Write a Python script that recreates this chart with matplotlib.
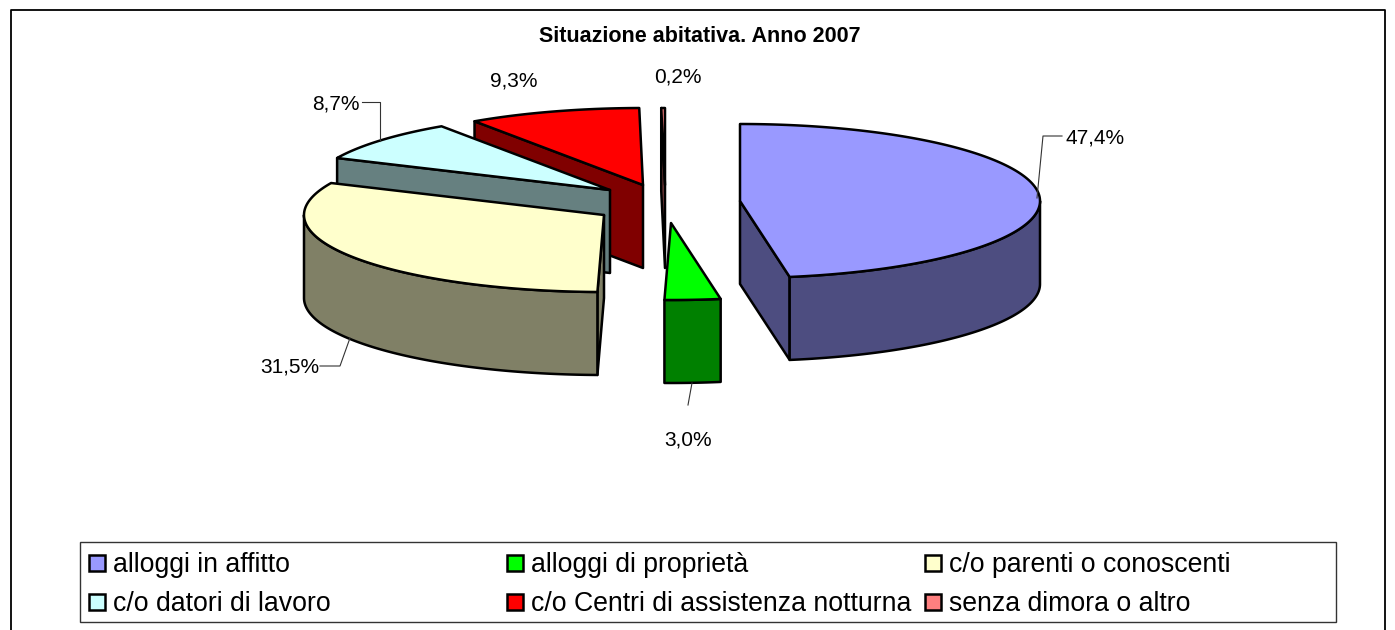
import numpy as np
import matplotlib
matplotlib.use("Agg")
import matplotlib.pyplot as plt
from matplotlib.patches import Polygon, Rectangle

plt.rcParams['font.family'] = ['Liberation Sans', 'DejaVu Sans']

# ================================
# Data
# ================================
categories = ["alloggi in affitto", "alloggi di proprietà", "c/o parenti o conoscenti",
              "c/o datori di lavoro", "c/o Centri di assistenza notturna", "senza dimora o altro"]
values = [47.4, 3.0, 31.5, 8.7, 9.3, 0.2]
title = "Situazione abitativa. Anno 2007"

# ================================
# Style / layout (pixels)
# ================================
top_colors = ["#9999FF", "#00FF00", "#FFFFCC", "#CCFFFF", "#FF0000", "#FF8080"]
side_colors = ["#4D4D80", "#008000", "#808066", "#668080", "#800000", "#804040"]
centers = [(740, 201), (671, 223), (604, 215), (610, 190), (643, 185), (665, 185)]
RX, RY, DEPTH = 300, 77, 83
LW = 1.8
draw_order = [4, 5, 3, 2, 0, 1]

label_pos = [(1065, 138), (664, 440), (260, 367), (312, 104), (490, 81), (654, 77)]
leaders = [[(1037, 198), (1043, 136), (1062, 136)],
           [(692, 383), (688, 405)],
           [(350, 338), (340, 366), (320, 366)],
           [(380, 141), (380, 102), (362, 102)]]
legend_swatch_x = [89, 507, 925]
legend_row_y = [563, 602]

fig = plt.figure(figsize=(13.95, 6.3), dpi=100)
ax = fig.add_axes([0, 0, 1, 1])
ax.set_xlim(0, 1395)
ax.set_ylim(630, 0)
ax.axis("off")


def rim(cx, cy, a0, a1):
    a = np.radians(np.linspace(a0, a1, max(int(abs(a1 - a0) * 2), 2)))
    return cx + RX * np.sin(a), cy - RY * np.cos(a)


def add_poly(xs, ys, color, z):
    ax.add_patch(Polygon(np.column_stack([xs, ys]), closed=True, facecolor=color,
                         edgecolor="black", lw=LW, joinstyle="round", zorder=z))


# ================================
# Pie slices
# ================================
edges = np.concatenate([[0], np.cumsum(values)]) / sum(values) * 360

for z, i in enumerate(draw_order):
    cx, cy = centers[i]
    a0, a1 = edges[i], edges[i + 1]
    base = 2 + z

    # flat cut faces, only the ones turned towards the viewer
    visible = []
    if np.sin(np.radians(a0)) < 0:
        visible.append(a0)
    if np.sin(np.radians(a1)) > 0.001:
        visible.append(a1)
    for a in visible:
        ex, ey = rim(cx, cy, a, a + 0.001)
        add_poly([cx, ex[0], ex[0], cx], [cy, ey[0], ey[0] + DEPTH, cy + DEPTH],
                 side_colors[i], base)

    # outer wall, only the part facing the viewer
    lo, hi = max(a0, 90), min(a1, 270)
    if hi > lo:
        wx, wy = rim(cx, cy, lo, hi)
        add_poly(np.concatenate([wx, wx[::-1]]), np.concatenate([wy, wy[::-1] + DEPTH]),
                 side_colors[i], base)

    # top face
    tx, ty = rim(cx, cy, a0, a1)
    add_poly(np.concatenate([[cx], tx]), np.concatenate([[cy], ty]), top_colors[i], base)

# ================================
# Labels
# ================================
for v, (x, y) in zip(values, label_pos):
    ax.text(x, y, f"{v:.1f}%".replace(".", ","), fontsize=15, color="black",
            ha="left", va="center", zorder=20)

for pts in leaders:
    ax.plot(*zip(*pts), color="#333333", lw=0.8, zorder=19)

ax.text(700, 37, title, fontsize=15.5, fontweight="bold", ha="center", va="center")

# ================================
# Chart frame (open at the bottom) and legend
# ================================
ax.plot([11, 11, 1385, 1385], [640, 10, 10, 640], color="black", lw=1.3, zorder=1)
ax.add_patch(Rectangle((80, 542), 1256, 80, facecolor="white", edgecolor="#333333", lw=1.0, zorder=1))

for n, name in enumerate(categories):
    x = legend_swatch_x[n % 3]
    y = legend_row_y[n // 3]
    ax.add_patch(Rectangle((x, y - 8), 16, 16, facecolor=top_colors[n], edgecolor="black",
                           lw=1.8, zorder=2))
    ax.text(x + 24, y + 9, name, fontsize=19.15, ha="left", va="baseline", zorder=2)

fig.savefig("out.png", dpi=100, facecolor="white")
